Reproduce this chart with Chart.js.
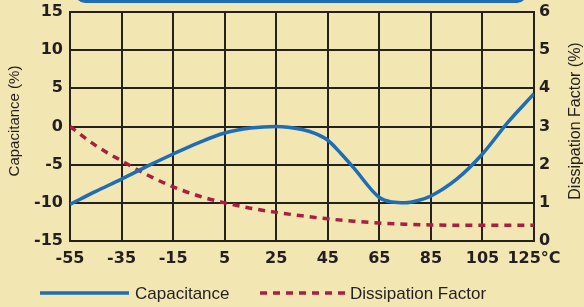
<!DOCTYPE html>
<html>
<head>
<meta charset="utf-8">
<script src="https://cdn.jsdelivr.net/npm/chart.js@4.4.1/dist/chart.umd.min.js"></script>
<style>
  body { margin: 0; background: #f2e6b3; }
  #wrap { width: 584px; height: 307px; position: relative; }
</style>
</head>
<body>
<div id="wrap"><canvas id="chart"></canvas></div>
<script>
// Capacitance / dissipation factor vs temperature

const xTicks = [-55, -35, -15, 5, 25, 45, 65, 85, 105, 125];

const capTemps  = [-55, -45, -35, -25, -15, -5, 5, 15, 25, 35, 40, 45, 50, 55, 65, 70, 75, 80, 85, 95, 105, 115, 125];
const capValues = [-10.2, -8.5, -6.9, -5.2, -3.6, -2.1, -0.85, -0.2, 0, -0.4, -0.9, -1.8, -3.5, -5.4, -9.3, -9.9, -10, -9.7, -9.1, -6.9, -3.6, 0.6, 4.3];

const dfTemps  = [-55, -45, -35, -25, -15, -5, 5, 15, 25, 35, 45, 55, 65, 75, 85, 105, 125];
const dfValues = [3.0, 2.5, 2.1, 1.73, 1.42, 1.18, 1.0, 0.86, 0.75, 0.66, 0.58, 0.52, 0.47, 0.44, 0.42, 0.41, 0.41];

const BLUE = '#1f6db5';
const RED  = '#a81f40';
const INK  = '#231f20';
const GRID = '#24211e';

const tickFont = { family: 'DejaVu Sans', size: 16, weight: 'bold' };

// pin an axis to a fixed size and drop the label overhang padding
function fixSize(prop, size) {
  return s => {
    s[prop] = size;
    s.paddingTop = s.paddingBottom = s.paddingLeft = s.paddingRight = 0;
  };
}

// Titles, legend and the top box edge are drawn by hand
const extras = {
  id: 'extras',
  afterDraw(chart) {
    const ctx = chart.ctx;
    ctx.save();

    // bottom edge of the blue header box
    ctx.strokeStyle = BLUE;
    ctx.lineWidth = 3;
    ctx.beginPath();
    ctx.roundRect(77, -30, 448, 31.5, 8);
    ctx.stroke();

    ctx.fillStyle = INK;
    ctx.font = '15px "Liberation Sans", Arial, sans-serif';
    ctx.textAlign = 'center';
    ctx.textBaseline = 'middle';

    ctx.save();
    ctx.translate(15, 121);
    ctx.rotate(-Math.PI / 2);
    ctx.fillText('Capacitance (%)', 0, 0);
    ctx.restore();

    ctx.save();
    ctx.translate(576, 121);
    ctx.rotate(-Math.PI / 2);
    ctx.font = '16px "Liberation Sans", Arial, sans-serif';
    ctx.fillText('Dissipation Factor (%)', 0, 0);
    ctx.restore();

    // legend
    const ly = 293;
    ctx.lineWidth = 3.5;
    ctx.strokeStyle = BLUE;
    ctx.beginPath();
    ctx.moveTo(40, ly);
    ctx.lineTo(129, ly);
    ctx.stroke();

    ctx.strokeStyle = RED;
    ctx.setLineDash([7, 6]);
    ctx.beginPath();
    ctx.moveTo(260, ly);
    ctx.lineTo(345, ly);
    ctx.stroke();
    ctx.setLineDash([]);

    ctx.font = '17px "Liberation Sans", Arial, sans-serif';
    ctx.textAlign = 'left';
    ctx.fillText('Capacitance', 135, ly + 1);
    ctx.fillText('Dissipation Factor', 350, ly + 1);

    ctx.restore();
  }
};

new Chart(document.getElementById('chart'), {
  type: 'line',
  data: {
    datasets: [
      {
        label: 'Capacitance',
        data: capTemps.map((t, i) => ({ x: t, y: capValues[i] })),
        yAxisID: 'y',
        borderColor: BLUE,
        borderWidth: 3.5,
        pointRadius: 0,
        cubicInterpolationMode: 'monotone',
      },
      {
        label: 'Dissipation Factor',
        data: dfTemps.map((t, i) => ({ x: t, y: dfValues[i] })),
        yAxisID: 'y2',
        borderColor: RED,
        borderWidth: 3.5,
        borderDash: [7, 6],
        pointRadius: 0,
        cubicInterpolationMode: 'monotone',
      },
    ],
  },
  options: {
    responsive: true,
    maintainAspectRatio: false,
    animation: false,
    layout: { padding: { top: 12, left: 0, right: 0, bottom: 0 } },
    plugins: {
      legend: { display: false },
      tooltip: { enabled: false },
    },
    scales: {
      x: {
        type: 'linear',
        min: -55,
        max: 125,
        afterBuildTicks: s => { s.ticks = xTicks.map(v => ({ value: v })); },
        afterFit: fixSize('height', 66),
        grid: { color: GRID, lineWidth: 2, drawTicks: false },
        border: { color: GRID, width: 2 },
        ticks: {
          color: INK,
          font: tickFont,
          padding: 8,
          maxRotation: 0,
          autoSkip: false,
          callback: v => (v === 125 ? '125°C' : String(v)),
        },
      },
      y: {
        position: 'left',
        min: -15,
        max: 15,
        afterFit: fixSize('width', 70),
        grid: { color: GRID, lineWidth: 2, drawTicks: false },
        border: { color: GRID, width: 2 },
        ticks: { stepSize: 5, color: INK, font: tickFont, padding: 7 },
      },
      y2: {
        position: 'right',
        min: 0,
        max: 6,
        afterFit: fixSize('width', 50),
        grid: { display: false, drawTicks: false },
        border: { color: GRID, width: 2 },
        ticks: { stepSize: 1, color: INK, font: tickFont, padding: 5 },
      },
    },
  },
  plugins: [extras],
});
</script>
</body>
</html>
